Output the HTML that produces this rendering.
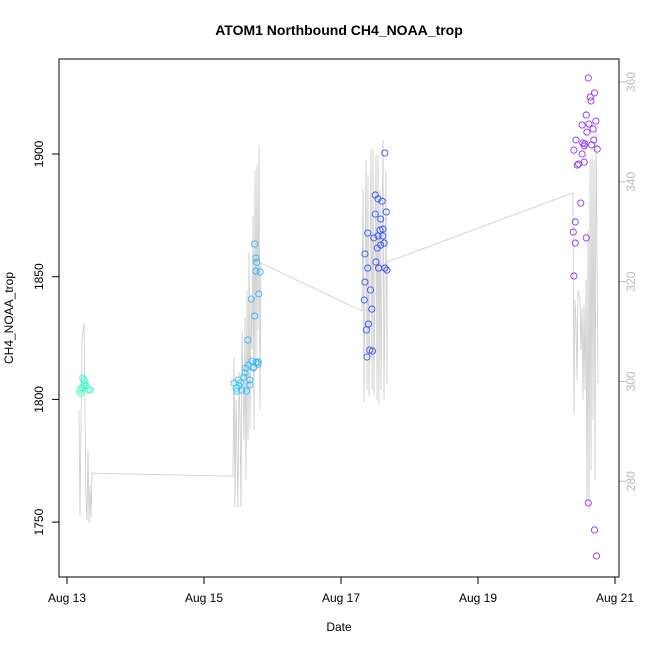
<!DOCTYPE html>
<html><head><meta charset="utf-8"><style>
body{margin:0;background:#fff;}
svg{font-family:"Liberation Sans",Arial,sans-serif;}
</style></head><body>
<svg id="chart" width="650" height="650" xmlns="http://www.w3.org/2000/svg">
<text x="339" y="35" text-anchor="middle" font-size="14" font-weight="bold">ATOM1 Northbound CH4_NOAA_trop</text>
<text x="339" y="631" text-anchor="middle" font-size="12">Date</text>
<text transform="translate(13,318) rotate(-90)" text-anchor="middle" font-size="12">CH4_NOAA_trop</text>
<g id="gray"></g>
<g id="pts"></g>
<g id="axes"></g>
<rect x="59" y="59" width="560" height="518" fill="none" stroke="#000" stroke-width="1"/>
</svg>
<script>
const xTicks=[0,2,4,6,8];
const xTickLabels=["Aug 13","Aug 15","Aug 17","Aug 19","Aug 21"];
const yTicks=[1750,1800,1850,1900];
const y2Ticks=[280,300,320,340,360];
const ptDays=[0.19,0.20,0.23,0.25,0.26,0.28,0.31,0.34,0.22,0.25,
2.44,2.47,2.48,2.50,2.51,2.53,2.55,2.58,2.60,2.61,2.62,2.64,2.65,2.67,2.67,2.69,2.70,2.72,2.73,2.74,2.76,2.77,2.74,2.76,2.76,2.79,2.80,2.82,2.79,
4.34,4.35,4.35,4.37,4.38,4.39,4.39,4.40,4.42,4.43,4.45,4.46,4.48,4.50,4.50,4.51,4.53,4.54,4.54,4.55,4.57,4.58,4.58,4.60,4.61,4.61,4.63,4.64,4.64,4.66,4.67,
7.39,7.40,7.42,7.42,7.40,7.43,7.45,7.47,7.50,7.52,7.52,7.53,7.55,7.55,7.56,7.58,7.58,7.59,7.61,7.61,7.62,7.64,7.65,7.66,7.68,7.69,7.70,7.70,7.72,7.73,7.74];
const ptCH4=[1803.8,1802.6,1808.7,1808.0,1806.7,1805.5,1804.0,1803.8,1804.6,1805.5,
1806.7,1804.6,1803.4,1807.9,1805.5,1806.7,1803.8,1809.1,1810.8,1812.8,1803.4,1824.2,1814.0,1805.9,1807.9,1840.9,1815.6,1812.8,1813.2,1863.3,1857.6,1855.9,1834.0,1852.3,1815.2,1815.2,1843.0,1851.9,1814.4,
1840.5,1847.8,1859.3,1828.3,1817.3,1867.8,1853.5,1830.7,1820.1,1844.6,1836.8,1819.7,1865.8,1883.3,1875.5,1856.0,1861.7,1881.7,1866.6,1853.5,1869.0,1873.5,1862.9,1880.8,1866.6,1869.4,1863.7,1900.4,1853.5,1876.4,1852.7,
1868.2,1850.3,1872.3,1863.7,1901.6,1905.7,1895.5,1895.9,1880.0,1900.0,1911.8,1904.5,1903.3,1896.7,1904.1,1915.9,1865.8,1908.9,1931.0,1757.8,1912.2,1923.2,1921.6,1903.7,1910.2,1905.7,1746.8,1924.9,1913.4,1736.2,1902.0];
const grayDays=[0.175,0.19,0.219,0.248,0.277,0.292,0.307,0.321,0.336,0.350,0.365,2.423,2.438,2.453,2.467,2.496,2.511,2.526,2.54,2.555,2.584,2.599,2.613,2.628,2.642,2.657,2.672,2.686,2.701,2.715,2.730,2.745,2.759,2.774,2.788,2.803,2.818,2.832,
4.307,4.321,4.336,4.365,4.380,4.394,4.409,4.438,4.453,4.467,4.482,4.511,4.526,4.540,4.555,4.569,4.584,4.613,4.628,4.657,4.672,4.672,
7.387,7.401,7.416,7.431,7.445,7.460,7.489,7.504,7.518,7.533,7.547,7.562,7.577,7.591,7.606,7.620,7.635,7.650,7.664,7.679,7.693,7.708,7.723,7.752];
const grayVals=[294.3,273.2,308.3,311.7,276.2,272.2,286.3,271.8,279.2,272.6,281.6,281.0,304.9,274.8,296.3,274.8,301.9,292.3,274.8,310.3,288.3,312.7,280.2,318.3,288.3,325.9,290.3,316.9,306.3,333.3,290.3,342.4,302.3,343.4,310.3,347.4,294.3,323.7,
314.1,338.4,295.9,344.4,298.3,341.4,296.9,346.4,298.3,346.8,297.3,345.4,296.3,345.4,295.3,338.4,298.3,348.4,296.3,342.4,299.3,323.9,
337.8,293.3,316.3,311.9,300.3,318.3,316.3,306.3,314.7,296.3,315.3,298.3,320.3,275.2,330.3,274.2,344.4,282.2,345.4,292.3,344.4,280.2,350.4,299.7];
const L=59,R=619,T=59,B=577;
const sx=d=>67+d*68.5;
const sy=v=>154+(1900-v)*2.454;
const sy2=v=>82+(360-v)*4.99;
const NS="http://www.w3.org/2000/svg";
function mk(tag,attrs,parent){const e=document.createElementNS(NS,tag);for(const k in attrs)e.setAttribute(k,attrs[k]);parent.appendChild(e);return e;}
const gray=document.getElementById('gray'),pts=document.getElementById('pts'),axes=document.getElementById('axes');
let d="";
grayDays.forEach((g,i)=>{d+=(i?"L":"M")+sx(g).toFixed(1)+","+sy2(grayVals[i]).toFixed(1);});
const pl=mk('path',{d:d,fill:"none",stroke:"#d0d0d0","stroke-width":0.9},gray);


ptDays.forEach((t,i)=>{
 const hue=t<4?160+t*15:175+t*12.2;
 const c=mk('circle',{cx:sx(t),cy:sy(ptCH4[i]),r:3.1,fill:"none",stroke:`hsl(${hue},100%,60%)`,"stroke-width":0.9},pts);
 
 
});
xTicks.forEach((t,i)=>{
 const x=sx(t);
 const ln=mk('line',{x1:x,x2:x,y1:B,y2:B+7,stroke:"#000"},axes);
 
 
 const tx=mk('text',{x:x,y:B+25,"text-anchor":"middle","font-size":12},axes);
 tx.textContent=xTickLabels[i];
 
 
});
mk('line',{x1:sx(0),x2:sx(8),y1:B,y2:B,stroke:"#000"},axes);
yTicks.forEach(v=>{
 const y=sy(v);
 const ln=mk('line',{x1:L-7,x2:L,y1:y,y2:y,stroke:"#000"},axes);
 
 
 const tx=mk('text',{transform:`translate(${L-16},${y}) rotate(-90)`,"text-anchor":"middle","font-size":12},axes);
 tx.textContent=v;
 
 
});
y2Ticks.forEach(v=>{
 const y=sy2(v);
 const ln=mk('line',{x1:R,x2:R+7,y1:y,y2:y,stroke:"#bbb"},axes);
 
 
 const tx=mk('text',{transform:`translate(${R+16},${y}) rotate(-90)`,"text-anchor":"middle","font-size":12,fill:"#bbb"},axes);
 tx.textContent=v;
 
 
});
</script>
</body></html>
